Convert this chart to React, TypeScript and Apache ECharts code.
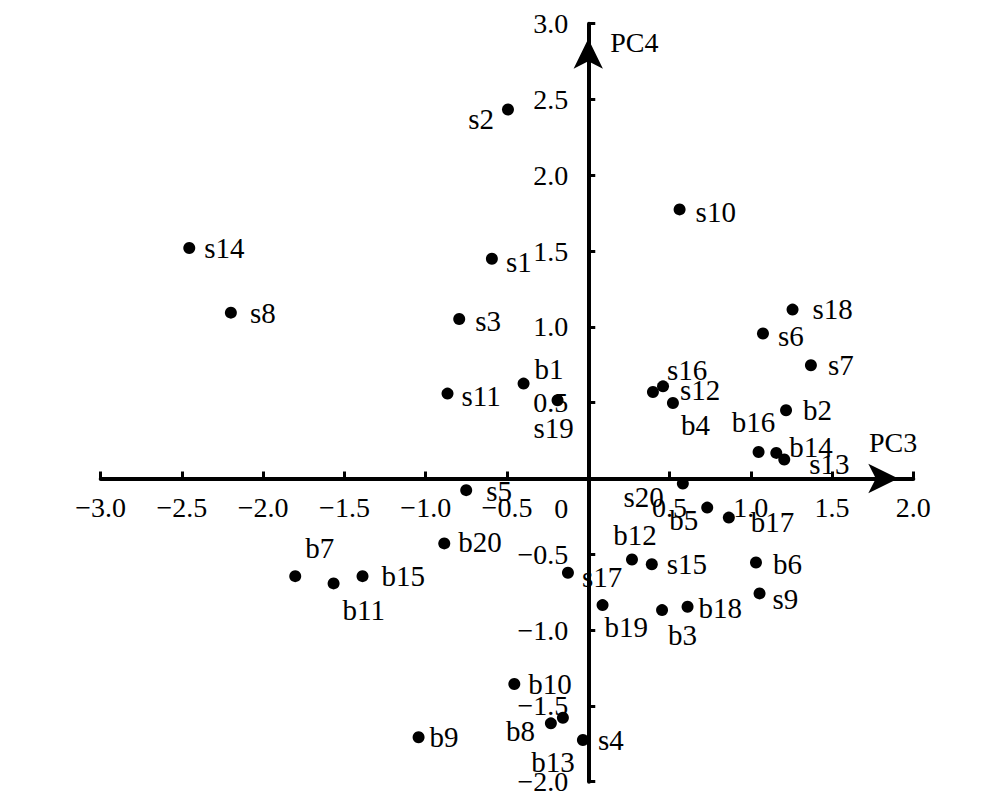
import React, { useEffect, useRef } from "react";
import * as echarts from "echarts";

// ---- data ----
const names = [
  "s1", "s2", "s3", "s4", "s5", "s6", "s7", "s8", "s9", "s10",
  "s11", "s12", "s13", "s14", "s15", "s16", "s17", "s18", "s19", "s20",
  "b1", "b2", "b3", "b4", "b5", "b6", "b7", "b8", "b9", "b10",
  "b11", "b12", "b13", "b14", "b15", "b16", "b17", "b18", "b19", "b20",
];
const pc3 = [
  -0.593, -0.494, -0.794, -0.033, -0.751, 1.075, 1.37, -2.199, 1.054, 0.562,
  -0.866, 0.46, 1.206, -2.455, 0.391, 0.398, -0.125, 1.257, -0.189, 0.582,
  -0.398, 1.217, 0.454, 0.521, 0.732, 1.032, -1.803, -0.23, -1.044, -0.455,
  -1.567, 0.269, -0.156, 1.157, -1.389, 1.048, 0.865, 0.611, 0.088, -0.886,
];
const pc4 = [
  1.45, 2.434, 1.052, -1.725, -0.077, 0.956, 0.747, 1.094, -0.758, 1.775,
  0.56, 0.608, 0.125, 1.52, -0.566, 0.571, -0.622, 1.114, 0.516, -0.033,
  0.626, 0.45, -0.868, 0.498, -0.192, -0.554, -0.644, -1.615, -1.707, -1.356,
  -0.692, -0.534, -1.578, 0.169, -0.644, 0.175, -0.258, -0.846, -0.835, -0.428,
];
const xTicks = [-3, -2.5, -2, -1.5, -1, -0.5, 0, 0.5, 1, 1.5, 2];
const yTicks = [-2, -1.5, -1, -0.5, 0, 0.5, 1, 1.5, 2, 2.5, 3];
const xName = "PC3";
const yName = "PC4";
const originLabel = "0";

// ---- label placement (style only): [align, dx, dy] ----
const labelPlacement: Record<string, [string, number, number]> = {
  s1: ["left", 14, 3], s2: ["right", -14, 9], s3: ["left", 16, 2], s4: ["left", 15, 0],
  s5: ["left", 20, 1], s6: ["left", 15, 2], s7: ["left", 17, 0], s8: ["left", 19, 0],
  s9: ["left", 13, 6], s10: ["left", 16, 3], s11: ["left", 14, 2], s12: ["left", 17, 4],
  s13: ["left", 25, 4], s14: ["left", 15, 0], s15: ["left", 15, 0], s16: ["left", 14, -22],
  s17: ["left", 14, 4], s18: ["left", 20, -1], s19: ["center", -4, 28], s20: ["right", -19, 13],
  b1: ["left", 11, -15], b2: ["left", 17, 0], b3: ["left", 6, 25], b4: ["left", 8, 22],
  b5: ["right", -9, 12], b6: ["left", 17, 2], b7: ["left", 10, -28], b8: ["right", -16, 8],
  b9: ["left", 11, 0], b10: ["left", 14, 0], b11: ["left", 9, 27], b12: ["center", 3, -24],
  b13: ["center", -10, 44], b14: ["left", 13, -6], b15: ["left", 19, 0], b16: ["center", -5, -30],
  b17: ["left", 22, 4], b18: ["left", 11, 1], b19: ["left", 2, 22], b20: ["left", 14, -1],
};

const FONT = "'Times New Roman', 'Liberation Serif', serif";
const FS = 28;
const FS_POINT = 29;

function fmt(v: number): string {
  if (v === 0) return "";
  const s = Math.abs(v).toFixed(1);
  return v < 0 ? "\u2212" + s : s;
}

export default function App() {
  const ref = useRef<HTMLDivElement>(null);
  useEffect(() => {
    if (!ref.current) return;
    const chart = echarts.init(ref.current, undefined, { renderer: "svg" });
    const data = names.map((n, i) => {
      const p = labelPlacement[n] || ["left", 14, 0];
      return {
        name: n,
        value: [pc3[i], pc4[i]],
        label: {
          show: true,
          position: "inside",
          align: p[0],
          verticalAlign: "middle",
          offset: [p[1], p[2]],
          formatter: n,
          color: "#000",
          fontFamily: FONT,
          fontSize: FS_POINT,
        },
      };
    });
    const axisCommon = {
      type: "value",
      interval: 0.5,
      splitLine: { show: false },
      axisLine: {
        show: true,
        onZero: false,
        symbol: ["none", "arrow"],
        symbolSize: [22, 30],
        symbolOffset: [0, -15],
        lineStyle: { color: "#000", width: 4 },
      },
      axisTick: { show: true, inside: true, length: 7, lineStyle: { color: "#000", width: 3 } },
      axisLabel: {
        color: "#000",
        fontFamily: FONT,
        fontSize: FS,
        formatter: (v: number) => fmt(v),
        showMinLabel: true,
        showMaxLabel: true,
      },
      nameMoveOverlap: false,
    };
    const grid = { left: 100.7, right: 90.7, top: 23.7, bottom: 21.3, containLabel: false, outerBoundsMode: "none" };
    chart.setOption({
      animation: false,
      backgroundColor: "#fff",
      grid,
      xAxis: {
        ...axisCommon,
        position: "bottom",
        min: xTicks[0],
        max: xTicks[xTicks.length - 1],
        axisLabel: { ...axisCommon.axisLabel, margin: 15 },
      },
      yAxis: {
        ...axisCommon,
        position: "left",
        min: yTicks[0],
        max: yTicks[yTicks.length - 1],
        axisLabel: { ...axisCommon.axisLabel, margin: 20 },
      },
      series: [
        {
          type: "scatter",
          symbol: "circle",
          symbolSize: 12,
          itemStyle: { color: "#000", opacity: 1 },
          data,
        },
      ],
    });
    // move both axes so that they cross at the origin
    const o = chart.convertToPixel({ xAxisIndex: 0, yAxisIndex: 0 }, [0, 0]) as number[];
    const lb = chart.convertToPixel({ xAxisIndex: 0, yAxisIndex: 0 }, [xTicks[0], yTicks[0]]) as number[];
    const rt = chart.convertToPixel({ xAxisIndex: 0, yAxisIndex: 0 }, [xTicks[xTicks.length - 1], yTicks[yTicks.length - 1]]) as number[];
    const textStyle = (text: string, align: string) => ({
      text,
      fill: "#000",
      font: `${FS}px ${FONT}`,
      align,
      verticalAlign: "middle",
    });
    chart.setOption({
      xAxis: { offset: -(lb[1] - o[1]) },
      yAxis: { offset: -(o[0] - lb[0]) },
      graphic: [
        { type: "text", x: o[0] - 20, y: o[1] + 30, style: textStyle(originLabel, "right") },
        { type: "text", x: rt[0] + 4, y: o[1] - 36, style: textStyle(xName, "right") },
        { type: "text", x: o[0] + 22, y: rt[1] + 19, style: textStyle(yName, "left") },
      ],
    });
    return () => chart.dispose();
  }, []);
  return (
    <div
      ref={ref}
      style={{ position: "fixed", left: 0, top: 0, width: 1004, height: 803, background: "#fff" }}
    />
  );
}
